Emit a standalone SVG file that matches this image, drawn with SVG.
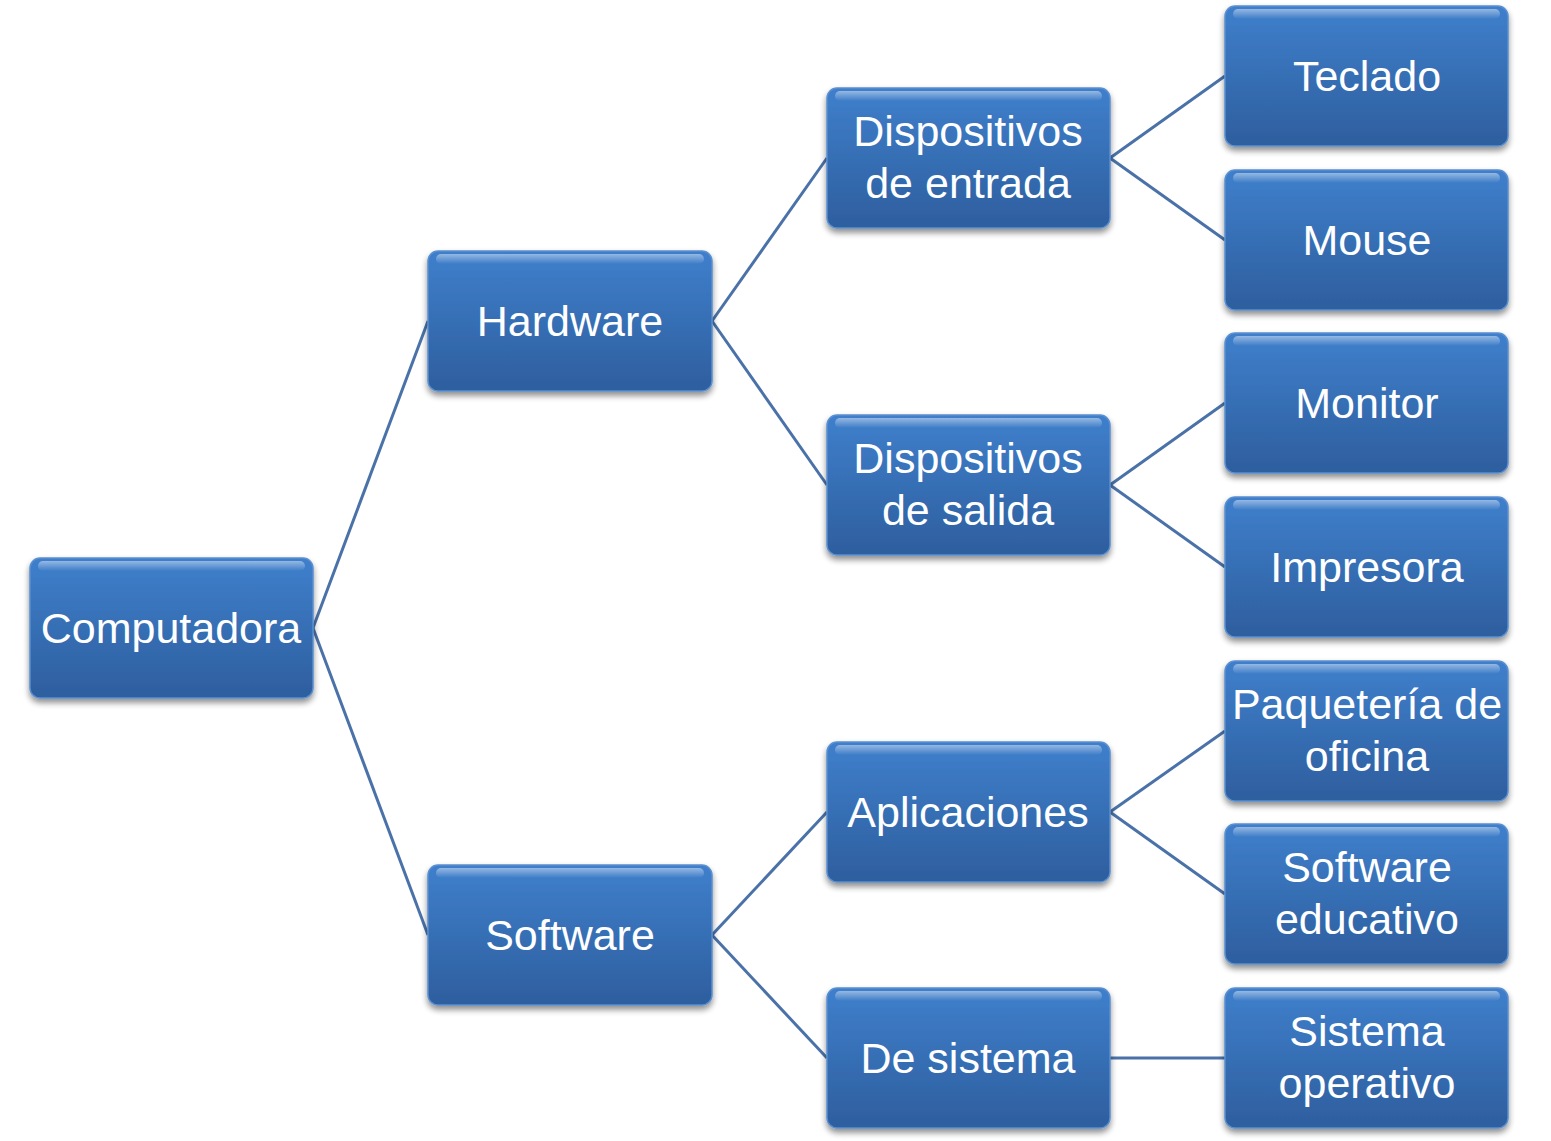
<svg xmlns="http://www.w3.org/2000/svg" width="1551" height="1141" viewBox="0 0 1551 1141">
<defs>
<linearGradient id="g" x1="0" y1="0" x2="0" y2="1">
<stop offset="0" stop-color="#3f7fcc"/>
<stop offset="0.5" stop-color="#366fb5"/>
<stop offset="1" stop-color="#2e5e9e"/>
</linearGradient>
<linearGradient id="hl" x1="0" y1="0" x2="0" y2="1">
<stop offset="0" stop-color="#ffffff" stop-opacity="0.45"/>
<stop offset="1" stop-color="#ffffff" stop-opacity="0"/>
</linearGradient>
<filter id="sh" x="-10%" y="-10%" width="120%" height="130%">
<feGaussianBlur in="SourceAlpha" stdDeviation="3"/>
<feOffset dx="0" dy="4" result="b"/>
<feComponentTransfer><feFuncA type="linear" slope="0.45"/></feComponentTransfer>
<feMerge><feMergeNode/><feMergeNode in="SourceGraphic"/></feMerge>
</filter>
</defs>
<style>
.box{fill:url(#g);stroke:#5a8fd0;stroke-width:1.5;filter:url(#sh)}
.hl{fill:url(#hl)}
.t{font-family:"Liberation Sans",Arial,sans-serif;font-size:43px;fill:#ffffff;text-anchor:middle}
.c{stroke:#4a72a8;stroke-width:3;fill:none}
</style>
<g id="connectors">
<line class="c" x1="313" y1="628" x2="428" y2="321"/>
<line class="c" x1="313" y1="628" x2="428" y2="935"/>
<line class="c" x1="712" y1="321" x2="827" y2="158"/>
<line class="c" x1="712" y1="321" x2="827" y2="485"/>
<line class="c" x1="712" y1="935" x2="827" y2="812"/>
<line class="c" x1="712" y1="935" x2="827" y2="1058"/>
<line class="c" x1="1110" y1="158" x2="1225" y2="76"/>
<line class="c" x1="1110" y1="158" x2="1225" y2="240"/>
<line class="c" x1="1110" y1="485" x2="1225" y2="403"/>
<line class="c" x1="1110" y1="485" x2="1225" y2="567"/>
<line class="c" x1="1110" y1="812" x2="1225" y2="731"/>
<line class="c" x1="1110" y1="812" x2="1225" y2="894"/>
<line class="c" x1="1110" y1="1058" x2="1225" y2="1058"/>
</g>
<g id="computadora">
<rect class="box" x="30" y="558" width="283" height="140" rx="10"/>
<rect class="hl" x="38" y="561" width="267" height="10" rx="5"/>
<text class="t" x="171" y="643">Computadora</text>
</g>
<g id="hardware">
<rect class="box" x="428" y="251" width="284" height="140" rx="10"/>
<rect class="hl" x="436" y="254" width="268" height="10" rx="5"/>
<text class="t" x="570" y="336">Hardware</text>
</g>
<g id="software">
<rect class="box" x="428" y="865" width="284" height="140" rx="10"/>
<rect class="hl" x="436" y="868" width="268" height="10" rx="5"/>
<text class="t" x="570" y="950">Software</text>
</g>
<g id="entrada">
<rect class="box" x="827" y="88" width="283" height="140" rx="10"/>
<rect class="hl" x="835" y="91" width="267" height="10" rx="5"/>
<text class="t" x="968" y="146">Dispositivos</text>
<text class="t" x="968" y="198">de entrada</text>
</g>
<g id="salida">
<rect class="box" x="827" y="415" width="283" height="140" rx="10"/>
<rect class="hl" x="835" y="418" width="267" height="10" rx="5"/>
<text class="t" x="968" y="473">Dispositivos</text>
<text class="t" x="968" y="525">de salida</text>
</g>
<g id="aplicaciones">
<rect class="box" x="827" y="742" width="283" height="140" rx="10"/>
<rect class="hl" x="835" y="745" width="267" height="10" rx="5"/>
<text class="t" x="968" y="827">Aplicaciones</text>
</g>
<g id="desistema">
<rect class="box" x="827" y="988" width="283" height="140" rx="10"/>
<rect class="hl" x="835" y="991" width="267" height="10" rx="5"/>
<text class="t" x="968" y="1073">De sistema</text>
</g>
<g id="teclado">
<rect class="box" x="1225" y="6" width="283" height="140" rx="10"/>
<rect class="hl" x="1233" y="9" width="267" height="10" rx="5"/>
<text class="t" x="1367" y="91">Teclado</text>
</g>
<g id="mouse">
<rect class="box" x="1225" y="170" width="283" height="140" rx="10"/>
<rect class="hl" x="1233" y="173" width="267" height="10" rx="5"/>
<text class="t" x="1367" y="255">Mouse</text>
</g>
<g id="monitor">
<rect class="box" x="1225" y="333" width="283" height="140" rx="10"/>
<rect class="hl" x="1233" y="336" width="267" height="10" rx="5"/>
<text class="t" x="1367" y="418">Monitor</text>
</g>
<g id="impresora">
<rect class="box" x="1225" y="497" width="283" height="140" rx="10"/>
<rect class="hl" x="1233" y="500" width="267" height="10" rx="5"/>
<text class="t" x="1367" y="582">Impresora</text>
</g>
<g id="paqueteria">
<rect class="box" x="1225" y="661" width="283" height="140" rx="10"/>
<rect class="hl" x="1233" y="664" width="267" height="10" rx="5"/>
<text class="t" x="1367" y="719">Paquetería de</text>
<text class="t" x="1367" y="771">oficina</text>
</g>
<g id="educativo">
<rect class="box" x="1225" y="824" width="283" height="140" rx="10"/>
<rect class="hl" x="1233" y="827" width="267" height="10" rx="5"/>
<text class="t" x="1367" y="882">Software</text>
<text class="t" x="1367" y="934">educativo</text>
</g>
<g id="sistemaoperativo">
<rect class="box" x="1225" y="988" width="283" height="140" rx="10"/>
<rect class="hl" x="1233" y="991" width="267" height="10" rx="5"/>
<text class="t" x="1367" y="1046">Sistema</text>
<text class="t" x="1367" y="1098">operativo</text>
</g>
</svg>
